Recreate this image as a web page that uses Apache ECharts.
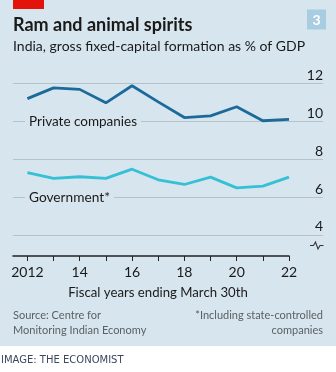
<!DOCTYPE html>
<html>
<head>
<meta charset="utf-8">
<script src="https://cdn.jsdelivr.net/npm/echarts@6/dist/echarts.min.js"></script>
<style>
  html, body { margin: 0; padding: 0; background: #ffffff; }
  #chart {
    width: 336px; height: 372px;
    background: linear-gradient(#d7e5ee 0, #d7e5ee 346px, #ffffff 346px);
  }
</style>
</head>
<body>
<div id="chart"></div>
<script>
// Gross fixed-capital formation, % of GDP, fiscal years ending March 30th
const years = [2012, 2013, 2014, 2015, 2016, 2017, 2018, 2019, 2020, 2021, 2022];
const privateCompanies = [11.21, 11.78, 11.70, 10.99, 11.89, 11.04, 10.21, 10.30, 10.78, 10.04, 10.11];
const government = [7.30, 6.99, 7.08, 6.99, 7.48, 6.92, 6.67, 7.06, 6.49, 6.58, 7.06];

const yTickValues = [4, 6, 8, 10, 12];
const xLabelYears = [2012, 2014, 2016, 2018, 2020, 2022];

const FONT = 'Lato, "Open Sans", sans-serif';
const PANEL = '#d7e5ee';
const INK = '#1a1a1a';
const GREY = '#5b5f63';

const chart = echarts.init(document.getElementById('chart'), null, { renderer: 'canvas' });

const gridTop = 83.7;
const gridBottom = 372 - 272.8;

const option = {
  backgroundColor: 'transparent',
  animation: false,
  grid: [
    // wide grid carrying the horizontal gridlines and value labels
    { left: 13, right: 13, top: gridTop, bottom: gridBottom },
    // narrower grid holding the two lines and the year axis
    { left: 13, right: 47, top: gridTop, bottom: gridBottom }
  ],
  xAxis: [
    { gridIndex: 0, type: 'value', min: 0, max: 1, show: false },
    {
      gridIndex: 1, type: 'value', min: 2011.45, max: 2022,
      offset: -16.8,
      axisLine: { onZero: false, lineStyle: { color: '#222', width: 1.6 } },
      axisTick: { customValues: years, length: 5, lineStyle: { color: '#222', width: 1 } },
      axisLabel: {
        customValues: xLabelYears, margin: 9,
        fontFamily: FONT, fontSize: 14, color: INK,
        formatter: v => (v === years[0] ? String(v) : String(v).slice(2))
      },
      splitLine: { show: false }
    }
  ],
  yAxis: [
    {
      gridIndex: 0, type: 'value', position: 'right', min: 2, max: 12, interval: 2,
      axisLine: { show: false }, axisTick: { show: false },
      axisLabel: {
        inside: true, margin: 0, align: 'right', verticalAlign: 'bottom',
        padding: [0, 0, 1, 0],
        fontFamily: FONT, fontSize: 14, color: INK,
        formatter: v => (yTickValues.includes(v) ? String(v) : '')
      },
      splitLine: { show: true, showMinLine: false, lineStyle: { color: '#b5c2c9', width: 1 } }
    },
    { gridIndex: 1, type: 'value', min: 2, max: 12, show: false }
  ],
  series: [
    {
      name: 'Private companies', type: 'line', xAxisIndex: 1, yAxisIndex: 1,
      data: years.map((y, i) => [y, privateCompanies[i]]),
      showSymbol: false, lineStyle: { color: '#1b6a9a', width: 2.8 }, z: 5
    },
    {
      name: 'Government*', type: 'line', xAxisIndex: 1, yAxisIndex: 1,
      data: years.map((y, i) => [y, government[i]]),
      showSymbol: false, lineStyle: { color: '#35c0d5', width: 2.8 }, z: 5
    }
  ]
};
chart.setOption(option);

// Series names sit on gridlines, masking them with the panel colour
const yPrivate = chart.convertToPixel({ yAxisIndex: 0 }, 10);
const yGov = chart.convertToPixel({ yAxisIndex: 0 }, 6);

const textItem = (text, x, y, size, weight, color, align, family) => ({
  type: 'text', x, y,
  style: { text, fontFamily: family || FONT, fontSize: size, fontWeight: weight || 'normal',
           fill: color || INK, align: align || 'left', verticalAlign: 'middle' }
});

chart.setOption({
  graphic: [
    { type: 'rect', shape: { x: 13, y: 0, width: 31, height: 9 }, style: { fill: '#e3120b' } },
    { type: 'rect', shape: { x: 307, y: 9.5, width: 19, height: 20 }, style: { fill: '#a9cde0' } },
    textItem('3', 316.5, 20, 14, 'bold', '#ffffff', 'center'),
    textItem('Ram and animal spirits', 13, 25.5, 18, 'bold', INK),
    textItem('India, gross fixed-capital formation as % of GDP', 13, 46, 14, 'normal', INK),
    {
      type: 'text', x: 25, y: yPrivate, z: 10,
      style: { text: 'Private companies', fontFamily: FONT, fontSize: 13.5, fill: INK,
               verticalAlign: 'middle', backgroundColor: PANEL, padding: [2, 4] }
    },
    {
      type: 'text', x: 25, y: yGov, z: 10,
      style: { text: 'Government*', fontFamily: FONT, fontSize: 13.7, fill: INK,
               verticalAlign: 'middle', backgroundColor: PANEL, padding: [2, 4] }
    },
    {
      type: 'polyline', z: 10,
      shape: { points: [[310, 245.5], [313.5, 245.5], [315.5, 242], [318, 249], [320, 245.5], [323.5, 245.5]] },
      style: { stroke: '#333', lineWidth: 1.1, fill: null }
    },
    textItem('Fiscal years ending March 30th', 158, 293, 13.2, 'normal', INK, 'center'),
    textItem('Source: Centre for', 13, 315, 11, 'normal', GREY),
    textItem('Monitoring Indian Economy', 13, 330, 11, 'normal', GREY),
    textItem('*Including state-controlled', 323, 315, 11, 'normal', GREY, 'right'),
    textItem('companies', 323, 330, 11, 'normal', GREY, 'right'),
    textItem('IMAGE: THE ECONOMIST', 1, 360.5, 10, 'normal', '#3c4760', 'left', '"DejaVu Sans", sans-serif')
  ]
});
</script>
</body>
</html>
